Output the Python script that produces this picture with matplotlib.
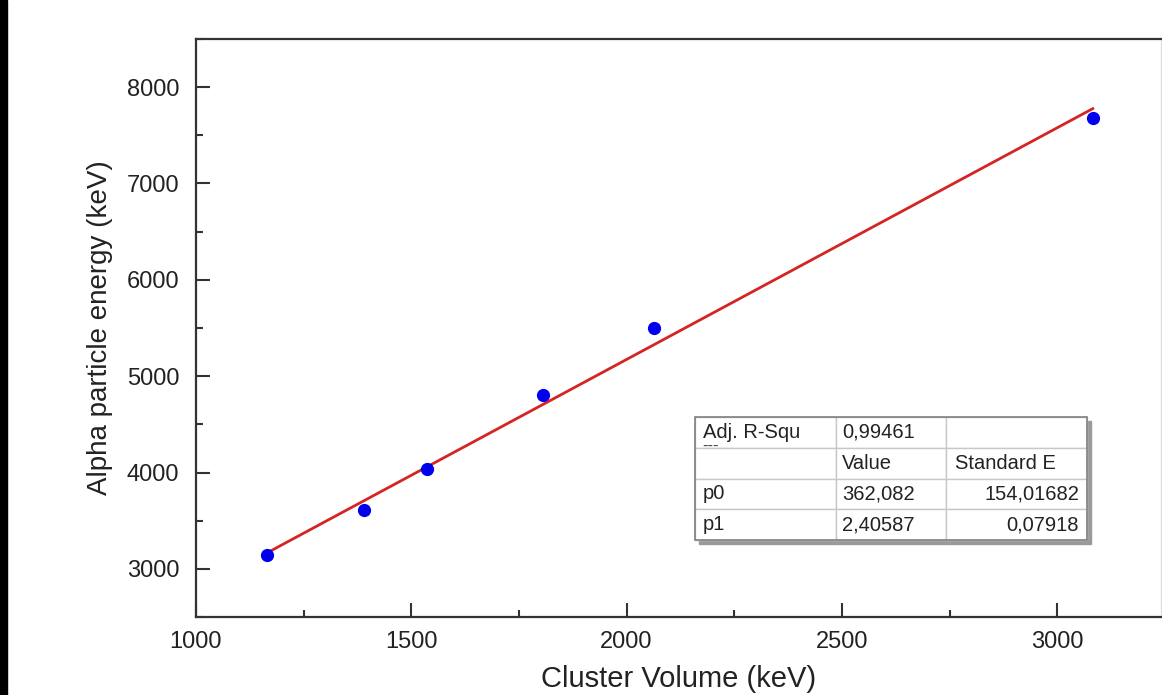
import matplotlib.pyplot as plt
from matplotlib.patches import Rectangle
from matplotlib.ticker import MultipleLocator

plt.rcParams['font.family'] = ['Liberation Sans', 'DejaVu Sans']

# measured points
cluster_volume = [1166, 1390, 1537, 1805, 2063, 3082]
alpha_energy = [3141, 3608, 4037, 4801, 5500, 7685]

# linear fit result (from the table)
p0 = 362.082
p1 = 2.40587
fit_table = [["Adj. R-Squ", "0,99461", ""],
             ["", "Value", "Standard E"],
             ["p0", "362,082", "154,01682"],
             ["p1", "2,40587", "0,07918"]]

fig = plt.figure(figsize=(11.62, 6.95), dpi=100)
ax = fig.add_axes([0.1685, 0.1122, 0.8305, 0.8317])

# black strip on the left edge of the original screenshot
fig.patches.append(Rectangle((0, 0), 7 / 1162, 1, transform=fig.transFigure,
                             color='black', zorder=-1))

x_fit = [min(cluster_volume), max(cluster_volume)]
y_fit = [p0 + p1 * v for v in x_fit]
ax.plot(x_fit, y_fit, color='#d42424', lw=2, zorder=2)
ax.plot(cluster_volume, alpha_energy, 'o', color='#0000ee', ms=8.5, zorder=3)

ax.set_xlim(1000, 3240)
ax.set_ylim(2500, 8500)
ax.xaxis.set_major_locator(MultipleLocator(500))
ax.xaxis.set_minor_locator(MultipleLocator(250))
ax.yaxis.set_major_locator(MultipleLocator(1000))
ax.yaxis.set_minor_locator(MultipleLocator(500))

ax.tick_params(which='both', direction='in', width=1.5, color='#333333',
               top=False, right=False)
ax.tick_params(which='major', length=10)
ax.tick_params(which='minor', length=5)
ax.tick_params(axis='x', labelsize=17, pad=10, labelcolor='#222222')
ax.tick_params(axis='y', labelsize=17, pad=12, labelcolor='#222222')

for side in ['left', 'bottom', 'top']:
    ax.spines[side].set_color('#333333')
    ax.spines[side].set_linewidth(1.6)
ax.spines['right'].set_color('#dddddd')
ax.spines['right'].set_linewidth(1)

ax.set_xlabel("Cluster Volume (keV)", fontsize=21, labelpad=9, color='#222222')
ax.set_ylabel("Alpha particle energy (keV)", fontsize=20, labelpad=10, color='#222222')

# fit results table with a soft shadow
tx, ty, tw, th = 0.517, 0.133, 0.407, 0.213
ax.add_patch(Rectangle((tx + 0.004, ty - 0.007), tw, th, transform=ax.transAxes,
                       color='#9a9a9a', zorder=4))
tab = ax.table(cellText=fit_table, bbox=[tx, ty, tw, th],
               colWidths=[0.359, 0.282, 0.359], zorder=5)
tab.auto_set_font_size(False)
tab.set_fontsize(14.5)
for (r, c), cell in tab.get_celld().items():
    cell.set_edgecolor('#c8c8c8')
    cell.set_linewidth(1)
    cell.set_facecolor('white')
    cell.PAD = 0.06
    loc = 'right' if (c == 2 and r >= 2) else 'left'
    cell._loc = loc
    cell.get_text().set_horizontalalignment(loc)
    cell.get_text().set_color('#222222')
ax.add_patch(Rectangle((tx, ty), tw, th, transform=ax.transAxes, fill=False,
                       edgecolor='#808080', lw=1.2, zorder=6))
# rest of "Adj. R-Square" is cut off below the header cell text
ax.text(tx + 0.008, ty + th * 0.765, "---", transform=ax.transAxes,
        fontsize=12, color='#444444', zorder=7, va='center', ha='left')

fig.savefig("out.png", dpi=100)
